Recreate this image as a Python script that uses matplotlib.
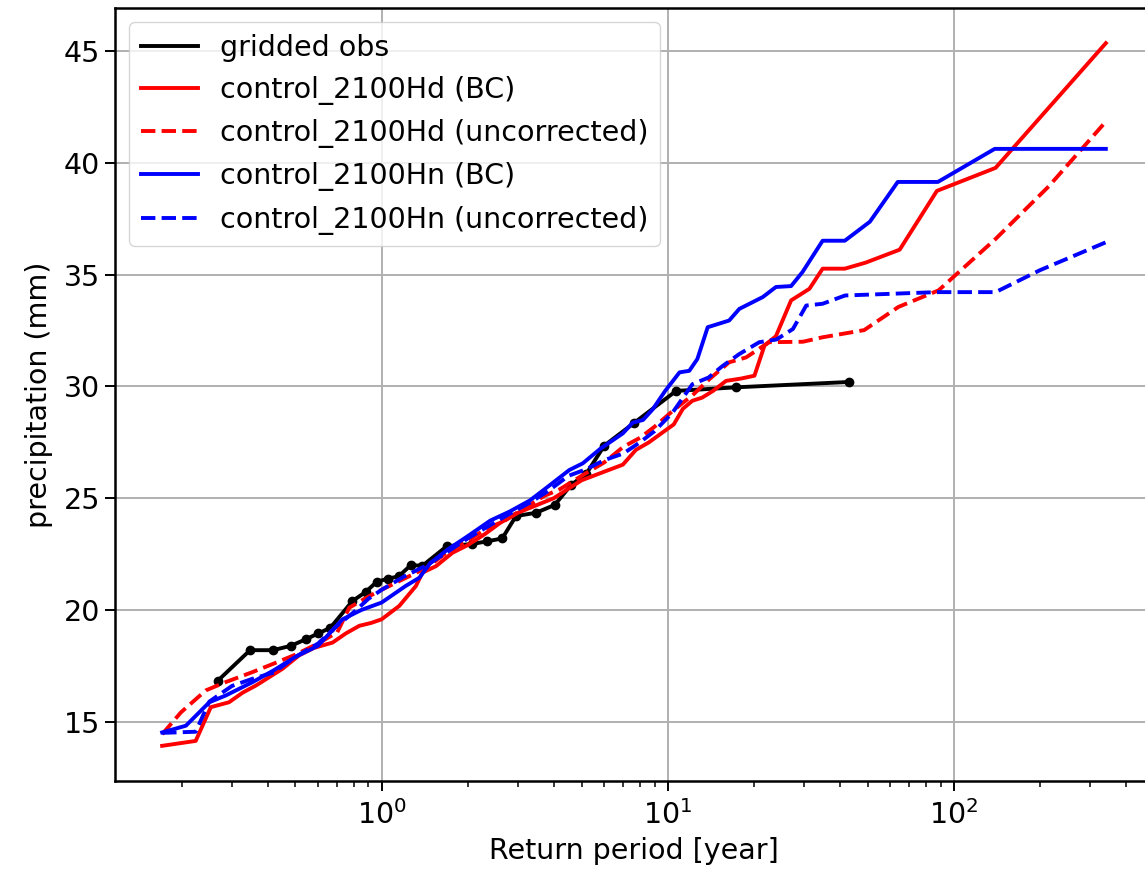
import numpy as np
import matplotlib
matplotlib.use("Agg")
import matplotlib.pyplot as plt

# gridded observations
obs_T = [0.268, 0.347, 0.418, 0.483, 0.546, 0.601, 0.662, 0.791, 0.879, 0.96,
         1.05, 1.147, 1.264, 1.39, 1.69, 2.07, 2.34, 2.64, 2.95, 3.47, 4.03,
         4.6, 5.2, 6.0, 7.6, 10.7, 17.3, 43.0]
obs_P = [16.84, 18.2, 18.2, 18.4, 18.7, 18.95, 19.2, 20.4, 20.8, 21.25,
         21.4, 21.5, 22.0, 21.98, 22.85, 22.95, 23.07, 23.2, 24.2, 24.35, 24.7,
         25.6, 26.1, 27.35, 28.35, 29.8, 29.96, 30.2]

# control_2100Hd bias corrected
hd_bc_T = [0.171, 0.224, 0.253, 0.293, 0.327, 0.364, 0.40, 0.451, 0.515, 0.58,
           0.674, 0.75, 0.836, 0.92, 1.0, 1.153, 1.318, 1.39, 1.55, 1.77, 2.0,
           2.3, 2.6, 3.0, 3.5, 4.0, 4.53, 5.0, 5.6, 6.97, 7.74, 8.6, 9.5, 10.5,
           11.3, 12.2, 13.2, 14.4, 16.0, 18.0, 20.1, 21.8, 23.9, 27.0, 31.3,
           34.8, 41.6, 49.2, 64.7, 87.3, 140, 340]
hd_bc_P = [13.92, 14.14, 15.65, 15.87, 16.3, 16.62, 16.95, 17.37, 17.97, 18.3,
           18.54, 18.95, 19.29, 19.42, 19.58, 20.18, 21.07, 21.67, 21.96, 22.56, 22.9,
           23.4, 23.9, 24.35, 24.7, 25.0, 25.45, 25.8, 26.04, 26.5, 27.16, 27.5, 27.9, 28.3,
           29.0, 29.36, 29.5, 29.8, 30.25, 30.35, 30.48, 31.83, 32.25, 33.85, 34.37,
           35.27, 35.27, 35.54, 36.12, 38.75, 39.78, 45.36]

# control_2100Hd uncorrected
hd_raw_T = [0.171, 0.199, 0.243, 0.285, 0.354, 0.42, 0.5, 0.6, 0.7, 0.771,
            0.9, 1.0, 1.2, 1.44, 1.7, 2.0, 2.3, 2.7, 3.2, 3.7, 4.2, 5.0, 6.0,
            7.0, 8.0, 9.0, 10.4, 12.2, 14.0, 16.4, 18.8, 22.6, 29.7, 34.8, 48.6,
            64.1, 88.5, 140, 215, 340]
hd_raw_P = [14.44, 15.42, 16.4, 16.77, 17.22, 17.6, 18.0, 18.5, 19.0, 20.1,
            20.6, 20.9, 21.4, 21.9, 22.6, 23.1, 23.6, 24.0, 24.6, 25.1, 25.4, 26.0, 26.6,
            27.3, 27.7, 28.2, 28.9, 29.6, 30.33, 31.08, 31.3, 31.98, 32.0, 32.2, 32.52,
            33.56, 34.3, 36.6, 38.96, 41.85]

# control_2100Hn bias corrected
hn_bc_T = [0.171, 0.207, 0.25, 0.285, 0.354, 0.42, 0.5, 0.6, 0.73, 0.85, 1.0,
           1.213, 1.355, 1.48, 1.7, 2.0, 2.4, 2.8, 3.3, 3.8, 4.53, 5.05, 5.8,
           6.97, 7.55, 8.2, 8.87, 9.8, 11.0, 11.9, 12.7, 13.8, 16.4, 17.8, 21.5,
           23.9, 27.0, 29.6, 34.8, 41.6, 50.9, 63.7, 88, 139, 340]
hn_bc_P = [14.52, 14.82, 15.87, 16.17, 16.77, 17.3, 17.9, 18.4, 19.58, 20.0, 20.33,
           21.07, 21.44, 22.1, 22.7, 23.3, 24.0, 24.4, 24.9, 25.5, 26.26, 26.56, 27.2,
           27.9, 28.38, 28.5, 28.98, 29.8, 30.63, 30.7, 31.23, 32.65, 32.95, 33.47, 34.0,
           34.45, 34.49, 35.12, 36.52, 36.52, 37.37, 39.15, 39.15, 40.63, 40.63]

# control_2100Hn uncorrected
hn_raw_T = [0.171, 0.224, 0.25, 0.3, 0.35, 0.42, 0.5, 0.6, 0.7, 0.8, 0.9, 1.0,
            1.2, 1.44, 1.7, 2.0, 2.4, 2.8, 3.3, 3.8, 4.5, 5.2, 6.0, 7.0, 8.0,
            9.0, 10.4, 12.2, 13.9, 15.5, 17.8, 20.9, 24.0, 27.4, 30.5, 34.8,
            41.7, 87, 140, 200, 340]
hn_raw_P = [14.5, 14.55, 15.9, 16.6, 16.9, 17.2, 17.9, 18.5, 19.3, 19.9, 20.5, 20.9,
            21.5, 22.0, 22.6, 23.2, 23.8, 24.3, 24.8, 25.3, 26.0, 26.3, 26.7, 27.0, 27.5,
            28.0, 28.83, 30.1, 30.4, 30.9, 31.45, 31.98, 32.1, 32.57, 33.62, 33.7,
            34.07, 34.22, 34.22, 35.2, 36.45]

plt.rcParams["font.size"] = 20.5

fig = plt.figure(figsize=(11.45, 8.72), dpi=100)
ax = fig.add_axes([0.1004, 0.1044, 0.9066, 0.8864])

lw = 2.8
ax.plot(obs_T, obs_P, "k-", lw=lw, label="gridded obs")
ax.plot(obs_T, obs_P, "ko", ms=6)
ax.plot(hd_bc_T, hd_bc_P, color="red", ls="-", lw=lw, label="control_2100Hd (BC)")
ax.plot(hd_raw_T, hd_raw_P, color="red", ls="--", lw=lw, label="control_2100Hd (uncorrected)")
ax.plot(hn_bc_T, hn_bc_P, color="blue", ls="-", lw=lw, label="control_2100Hn (BC)")
ax.plot(hn_raw_T, hn_raw_P, color="blue", ls="--", lw=lw, label="control_2100Hn (uncorrected)")

ax.set_xscale("log")
ax.set_xlabel("Return period [year]", labelpad=5)
ax.set_ylabel("precipitation (mm)", labelpad=8)
ax.grid(True, which="major", color="#b0b0b0", lw=1.4)
ax.tick_params(which="major", length=7, width=1.4)
ax.tick_params(axis="x", which="major", pad=7)
ax.tick_params(which="minor", length=4, width=1.1)
for s in ax.spines.values():
    s.set_linewidth(1.8)
ax.legend(loc="upper left", fontsize=20.5)

fig.savefig("out.png", dpi=100)
